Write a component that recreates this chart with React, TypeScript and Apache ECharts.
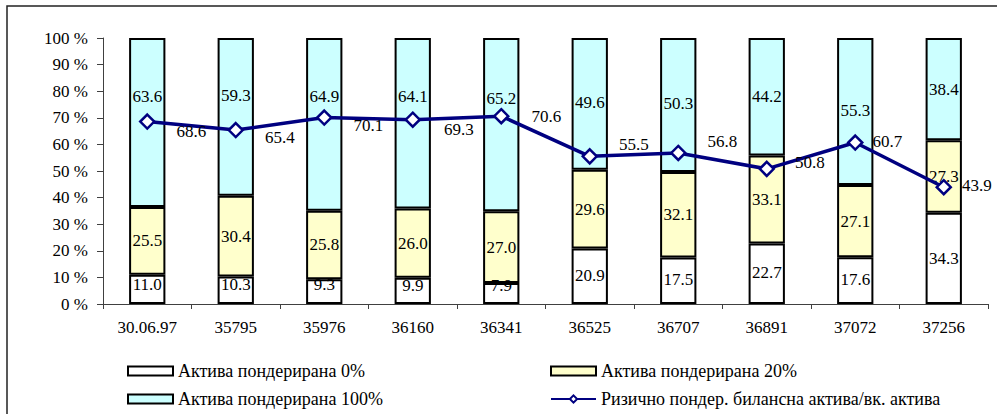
import React, { useEffect, useRef } from "react";
import * as echarts from "echarts";

const categories = ["30.06.97", "35795", "35976", "36160", "36341", "36525", "36707", "36891", "37072", "37256"];
const weighted0 = [11.0, 10.3, 9.3, 9.9, 7.9, 20.9, 17.5, 22.7, 17.6, 34.3];
const weighted20 = [25.5, 30.4, 25.8, 26.0, 27.0, 29.6, 32.1, 33.1, 27.1, 27.3];
const weighted100 = [63.6, 59.3, 64.9, 64.1, 65.2, 49.6, 50.3, 44.2, 55.3, 38.4];
const riskRatio = [68.6, 65.4, 70.1, 69.3, 70.6, 55.5, 56.8, 50.8, 60.7, 43.9];
const yTicks = [0, 10, 20, 30, 40, 50, 60, 70, 80, 90, 100];

const seriesNames = [
  "Актива пондерирана 0%",
  "Актива пондерирана 20%",
  "Актива пондерирана 100%",
  "Ризично пондер. билансна актива/вк. актива",
];

// label nudges (styling only)
const nudge0 = [-5, -6, -7, -5, -8, -1, -1, -1, -1, 0];
const nudge100 = [-26, -21, -28, -27, -26, -1, -1, 0, -1, 0];
const lineNudge: [number, number][] = [
  [0, 10], [0, 7], [0, 8], [2, 10], [1, 0], [0, -12], [0, -11], [-1, -6], [-12, -1], [-11, -2],
];

const FONT = "'Liberation Serif', 'Times New Roman', serif";
const FS = 17;

export default function App() {
  const ref = useRef<HTMLDivElement>(null);
  useEffect(() => {
    document.body.style.margin = "0";
    if (!ref.current) return;
    const chart = echarts.init(ref.current, undefined, { renderer: "svg" });
    const totals = categories.map((_, i) => weighted0[i] + weighted20[i] + weighted100[i]);
    const mkBar = (name: string, raw: number[], color: string, nudge?: number[]) => ({
      name,
      type: "bar",
      stack: "total",
      barWidth: "41%",
      itemStyle: { color, borderColor: "#000", borderWidth: 2 },
      label: {
        show: true,
        position: "inside",
        fontFamily: FONT,
        fontSize: FS,
        color: "#000",
        formatter: (p: any) => raw[p.dataIndex].toFixed(1),
      },
      data: raw.map((v, i) => ({
        value: (v / totals[i]) * 100,
        label: nudge ? { offset: [0, nudge[i]] } : undefined,
      })),
    });
    const legendBase = {
      top: 362,
      height: 52,
      padding: 0,
      orient: "vertical",
      itemWidth: 45,
      itemHeight: 9,
      itemGap: 10,
      textStyle: { fontFamily: FONT, fontSize: 18, color: "#000" },
      selectedMode: false,
    };
    const option: any = {
      animation: false,
      textStyle: { fontFamily: FONT },
      grid: { left: 103, top: 38, right: 9, bottom: 110, containLabel: false },
      xAxis: {
        type: "category",
        data: categories,
        axisLine: { lineStyle: { color: "#404040", width: 1 } },
        axisTick: { show: true, length: 5, lineStyle: { color: "#404040" } },
        axisLabel: { fontFamily: FONT, fontSize: FS, color: "#000", margin: 15 },
      },
      yAxis: {
        type: "value",
        min: yTicks[0],
        max: yTicks[yTicks.length - 1],
        interval: 10,
        splitLine: { show: false },
        axisLine: { show: true, lineStyle: { color: "#404040", width: 1 } },
        axisTick: { show: true, length: 6, lineStyle: { color: "#404040" } },
        axisLabel: {
          fontFamily: FONT,
          fontSize: FS,
          color: "#000",
          margin: 15,
          formatter: (v: number) => `${v} %`,
        },
      },
      legend: [
        {
          ...legendBase,
          left: 127,
          data: [
            { name: seriesNames[0], icon: "rect" },
            { name: seriesNames[2], icon: "rect" },
          ],
        },
        {
          ...legendBase,
          left: 550,
          data: [{ name: seriesNames[1], icon: "rect" }, { name: seriesNames[3] }],
        },
      ],
      graphic: [
        {
          type: "rect",
          shape: { x: 7, y: 6, width: 1200, height: 600 },
          style: { fill: "none", stroke: "#222", lineWidth: 1.5 },
          silent: true,
        },
      ],
      series: [
        mkBar(seriesNames[0], weighted0, "#FFFFFF", nudge0),
        mkBar(seriesNames[1], weighted20, "#FFFFCC"),
        mkBar(seriesNames[2], weighted100, "#CCFFFF", nudge100),
        {
          name: seriesNames[3],
          type: "line",
          z: 5,
          symbol: "diamond",
          symbolSize: 14,
          lineStyle: { color: "#000080", width: 3.5 },
          itemStyle: { color: "#FFFFFF", borderColor: "#000080", borderWidth: 2.5 },
          label: {
            show: true,
            position: "right",
            distance: 21,
            fontFamily: FONT,
            fontSize: FS,
            color: "#000",
            formatter: (p: any) => riskRatio[p.dataIndex].toFixed(1),
          },
          data: riskRatio.map((v, i) => ({ value: v, label: { offset: lineNudge[i] } })),
        },
      ],
    };
    chart.setOption(option);
    return () => chart.dispose();
  }, []);
  return <div ref={ref} style={{ width: 997, height: 414 }} />;
}
